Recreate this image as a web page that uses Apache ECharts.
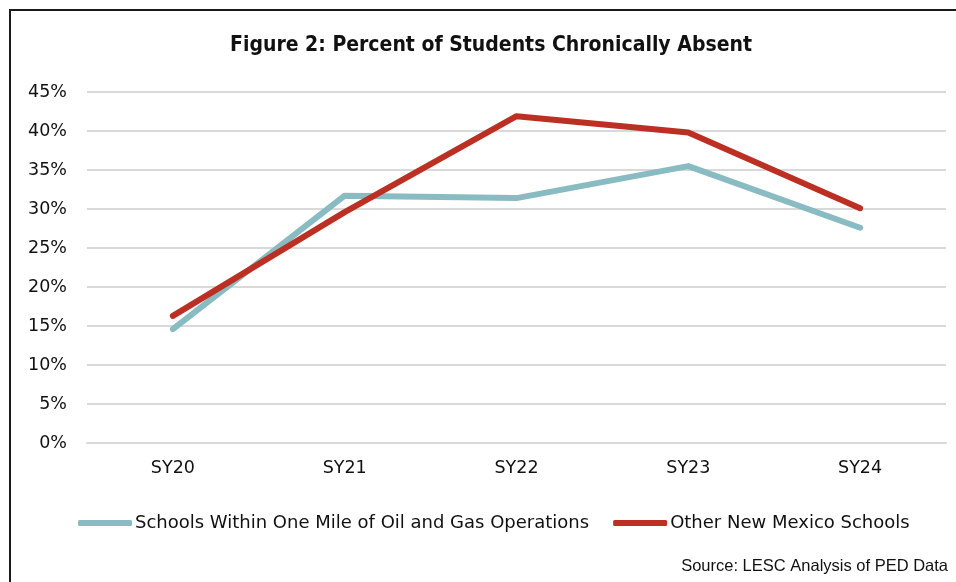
<!DOCTYPE html>
<html>
<head>
    <meta charset="utf-8">
    <script src="https://cdn.jsdelivr.net/npm/echarts@6/dist/echarts.min.js"></script>
    <style>
        html, body { margin: 0; padding: 0; background: #fff; }
    </style>
</head>
<body>
    <div id="main" style="width: 956px;height:582px;"></div>
    <script type="text/javascript">
        var categories = ['SY20', 'SY21', 'SY22', 'SY23', 'SY24'];
        var nearOilGas = [14.6, 31.7, 31.4, 35.5, 27.6];
        var otherNM = [16.3, 29.6, 41.9, 39.8, 30.1];
        var seriesNames = ['Schools Within One Mile of Oil and Gas Operations', 'Other New Mexico Schools'];

        var bodyFont = '"DejaVu Sans", sans-serif';

        var myChart = echarts.init(document.getElementById('main'));

        var option = {
            backgroundColor: '#fff',
            animation: false,
            title: {
                text: 'Figure 2: Percent of Students Chronically Absent',
                left: 486,
                textAlign: 'center',
                top: 30,
                textStyle: {
                    fontFamily: '"DejaVu Sans Condensed", sans-serif',
                    fontWeight: 'bold',
                    fontSize: 21,
                    color: '#111'
                }
            },
            // outer frame, cut by the window on the right and bottom
            graphic: [{
                type: 'rect',
                shape: { x: 10, y: 10, width: 1000, height: 1000 },
                style: { fill: 'none', stroke: '#1a1a1a', lineWidth: 2 },
                silent: true
            }, {
                type: 'text',
                right: 8,
                top: 558,
                style: {
                    text: 'Source: LESC Analysis of PED Data',
                    fontFamily: '"Liberation Sans", Arial, sans-serif',
                    fontSize: 16.5,
                    fill: '#111'
                }
            }],
            legend: {
                data: seriesNames,
                left: 73,
                top: 509,
                icon: 'roundRect',
                itemWidth: 54,
                itemHeight: 6,
                itemGap: 24,
                textStyle: {
                    fontFamily: bodyFont,
                    fontSize: 18,
                    color: '#111',
                    padding: [0, 0, 0, -2]
                }
            },
            grid: {
                left: 87,
                right: 10,
                top: 92,
                bottom: 139
            },
            xAxis: {
                type: 'category',
                data: categories,
                boundaryGap: true,
                axisLine: { show: true, lineStyle: { color: '#d9d9d9', width: 2 } },
                axisTick: { show: false },
                axisLabel: {
                    margin: 16,
                    fontFamily: bodyFont,
                    fontSize: 17.5,
                    color: '#111'
                }
            },
            yAxis: {
                type: 'value',
                min: 0,
                max: 45,
                interval: 5,
                axisLine: { show: false },
                axisTick: { show: false },
                splitLine: { lineStyle: { color: '#d9d9d9', width: 2 } },
                axisLabel: {
                    margin: 20,
                    formatter: '{value}%',
                    fontFamily: bodyFont,
                    fontSize: 17.5,
                    color: '#111'
                }
            },
            series: [
                {
                    name: seriesNames[0],
                    type: 'line',
                    data: nearOilGas,
                    symbol: 'none',
                    itemStyle: { color: '#88bcc2' },
                    lineStyle: { color: '#88bcc2', width: 6, cap: 'round', join: 'round' }
                },
                {
                    name: seriesNames[1],
                    type: 'line',
                    data: otherNM,
                    symbol: 'none',
                    itemStyle: { color: '#bc3024' },
                    lineStyle: { color: '#bc3024', width: 6, cap: 'round', join: 'round' }
                }
            ]
        };

        myChart.setOption(option);
    </script>
</body>
</html>
